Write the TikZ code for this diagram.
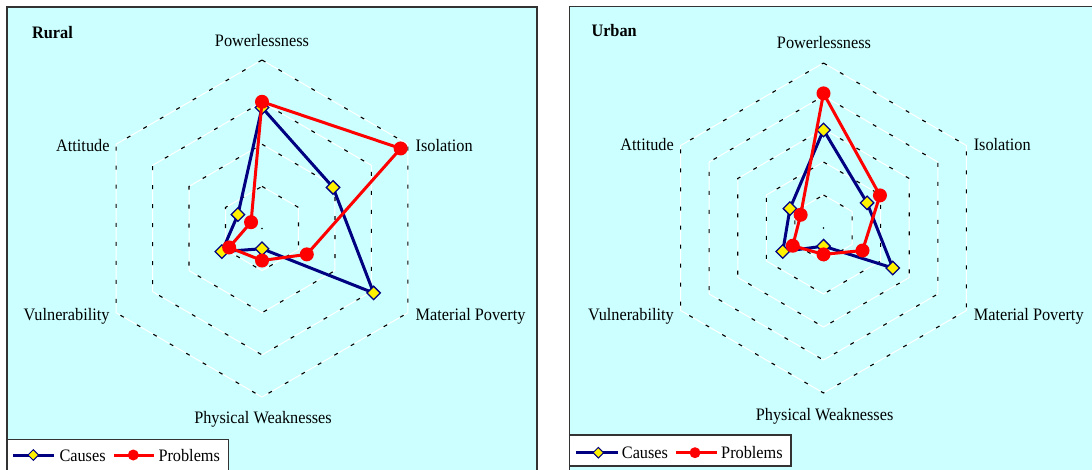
\documentclass[tikz,border=0pt]{standalone}
\usepackage{fontspec}
\setmainfont[FakeStretch=0.93]{Liberation Serif}
\usetikzlibrary{shapes.geometric}
\definecolor{panelbg}{HTML}{CCFFFF}
\definecolor{navyline}{HTML}{000080}
\definecolor{framegray}{HTML}{333333}
\begin{document}
\begin{tikzpicture}[x=1pt,y=1pt,
  panel/.style={fill=panelbg, draw=framegray, line width=1.5pt},
  legbox/.style={fill=white, draw=framegray, line width=1.2pt},
  gridw/.style={draw=white, line width=1pt},
  gridk/.style={draw=black, line width=1.1pt, dash pattern=on 4pt off 15pt},
  causes/.style={draw=navyline, line width=3pt, line join=round},
  problems/.style={draw=red, line width=3pt, line join=round},
  diam/.style={diamond, fill=yellow, draw=navyline, line width=1.3pt, minimum width=14pt, minimum height=14pt, inner sep=0pt},
  probdot/.style={circle, fill=red, minimum size=14pt, inner sep=0pt},
  lbl/.style={font=\fontsize{17.5}{20}\selectfont, inner sep=0pt, text=black},
  ttl/.style={font=\fontsize{17.5}{20}\selectfont\bfseries, inner sep=0pt, text=black}
]
\useasboundingbox (0,0) rectangle (1092,-470);
\fill[white] (0,0) rectangle (1092,-470);

% panels
\draw[panel] (7,-7) rectangle (537,-490);
\draw[panel] (569.3,-6.5) rectangle (1110,-490);

% ---------------- Rural ----------------
\begin{scope}[shift={(262,-228.5)}]
  \foreach \k in {1,...,4} {
    \draw[gridw] (90:\k*42.125) -- (30:\k*42.125) -- (-30:\k*42.125) -- (-90:\k*42.125) -- (-150:\k*42.125) -- (150:\k*42.125) -- cycle;
    \draw[gridk] (90:\k*42.125) -- (30:\k*42.125) -- (-30:\k*42.125) -- (-90:\k*42.125) -- (-150:\k*42.125) -- (150:\k*42.125) -- cycle;
  }
  \fill (0,0) circle (0.8pt);
  \coordinate (LC1) at (90:0.718*168.5);
  \coordinate (LC2) at (30:0.487*168.5);
  \coordinate (LC3) at (-30:0.765*168.5);
  \coordinate (LC4) at (-90:0.12*168.5);
  \coordinate (LC5) at (-150:0.275*168.5);
  \coordinate (LC6) at (150:0.165*168.5);
  \coordinate (LP1) at (90:0.752*168.5);
  \coordinate (LP2) at (30:0.95*168.5);
  \coordinate (LP3) at (-30:0.307*168.5);
  \coordinate (LP4) at (-90:0.19*168.5);
  \coordinate (LP5) at (-150:0.225*168.5);
  \coordinate (LP6) at (150:0.075*168.5);
\end{scope}
\draw[causes] (LC1) -- (LC2) -- (LC3) -- (LC4) -- (LC5) -- (LC6) -- cycle;
\foreach \i in {1,...,6} { \node[diam] (LCm\i) at (LC\i) {}; }
\draw[problems] (LP1) -- (LP2) -- (LP3) -- (LP4) -- (LP5) -- (LP6) -- cycle;
\foreach \i in {1,...,6} { \node[probdot] (LPm\i) at (LP\i) {}; }

\node[ttl, anchor=base west] (rtitle) at (32,-38.3) {Rural};
\node[lbl, anchor=base] (rpow) at (262,-46.7) {Powerlessness};
\node[lbl, anchor=base west] (riso) at (415.5,-151.5) {Isolation};
\node[lbl, anchor=base west] (rmat) at (415.5,-320.5) {Material Poverty};
\node[lbl, anchor=base] (rphy) at (263,-423) {Physical Weaknesses};
\node[lbl, anchor=base east] (rvul) at (109.7,-320.5) {Vulnerability};
\node[lbl, anchor=base east] (ratt) at (109.7,-151.5) {Attitude};

% legend rural
\draw[legbox] (7,-439.3) rectangle (228.3,-490);
\coordinate (rl1a) at (13.3,-455);
\coordinate (rl1b) at (54,-455);
\coordinate (rl2a) at (114,-455);
\coordinate (rl2b) at (154,-455);
\draw[causes] (rl1a) -- (rl1b);
\node[diam, minimum width=11pt, minimum height=11pt, line width=1pt] (rlm1) at (33.3,-455) {};
\node[lbl, anchor=base west] (rlt1) at (59.3,-461.7) {Causes};
\draw[problems] (rl2a) -- (rl2b);
\node[probdot, minimum size=11pt] (rlm2) at (133.3,-455) {};
\node[lbl, anchor=base west] (rlt2) at (158.3,-461.7) {Problems};

% ---------------- Urban ----------------
\begin{scope}[shift={(823.5,-228)}]
  \foreach \k in {1,...,5} {
    \draw[gridw] (90:\k*33) -- (30:\k*33) -- (-30:\k*33) -- (-90:\k*33) -- (-150:\k*33) -- (150:\k*33) -- cycle;
    \draw[gridk] (90:\k*33) -- (30:\k*33) -- (-30:\k*33) -- (-90:\k*33) -- (-150:\k*33) -- (150:\k*33) -- cycle;
  }
  \fill (0,0) circle (0.8pt);
  \coordinate (UC1) at (90:0.594*165);
  \coordinate (UC2) at (30:0.305*165);
  \coordinate (UC3) at (-30:0.485*165);
  \coordinate (UC4) at (-90:0.11*165);
  \coordinate (UC5) at (-150:0.285*165);
  \coordinate (UC6) at (150:0.235*165);
  \coordinate (UP1) at (90:0.816*165);
  \coordinate (UP2) at (30:0.395*165);
  \coordinate (UP3) at (-30:0.273*165);
  \coordinate (UP4) at (-90:0.16*165);
  \coordinate (UP5) at (-150:0.215*165);
  \coordinate (UP6) at (150:0.16*165);
\end{scope}
\draw[causes] (UC1) -- (UC2) -- (UC3) -- (UC4) -- (UC5) -- (UC6) -- cycle;
\foreach \i in {1,...,6} { \node[diam] (UCm\i) at (UC\i) {}; }
\draw[problems] (UP1) -- (UP2) -- (UP3) -- (UP4) -- (UP5) -- (UP6) -- cycle;
\foreach \i in {1,...,6} { \node[probdot] (UPm\i) at (UP\i) {}; }

\node[ttl, anchor=base west] (utitle) at (591.3,-36.5) {Urban};
\node[lbl, anchor=base] (upow) at (824,-49) {Powerlessness};
\node[lbl, anchor=base west] (uiso) at (973.6,-151) {Isolation};
\node[lbl, anchor=base west] (umat) at (973.6,-320) {Material Poverty};
\node[lbl, anchor=base] (uphy) at (824.6,-420) {Physical Weaknesses};
\node[lbl, anchor=base east] (uvul) at (674,-320) {Vulnerability};
\node[lbl, anchor=base east] (uatt) at (674,-151) {Attitude};

% legend urban
\draw[legbox] (569.3,-435) rectangle (791,-466);
\coordinate (ul1a) at (576,-452.7);
\coordinate (ul1b) at (618.3,-452.7);
\coordinate (ul2a) at (676,-452.7);
\coordinate (ul2b) at (716.7,-452.7);
\draw[causes] (ul1a) -- (ul1b);
\node[diam, minimum width=11pt, minimum height=11pt, line width=1pt] (ulm1) at (598.3,-452.7) {};
\node[lbl, anchor=base west] (ult1) at (621.7,-458.3) {Causes};
\draw[problems] (ul2a) -- (ul2b);
\node[probdot, minimum size=11pt] (ulm2) at (695,-452.7) {};
\node[lbl, anchor=base west] (ult2) at (721,-458.3) {Problems};
\end{tikzpicture}
\end{document}
